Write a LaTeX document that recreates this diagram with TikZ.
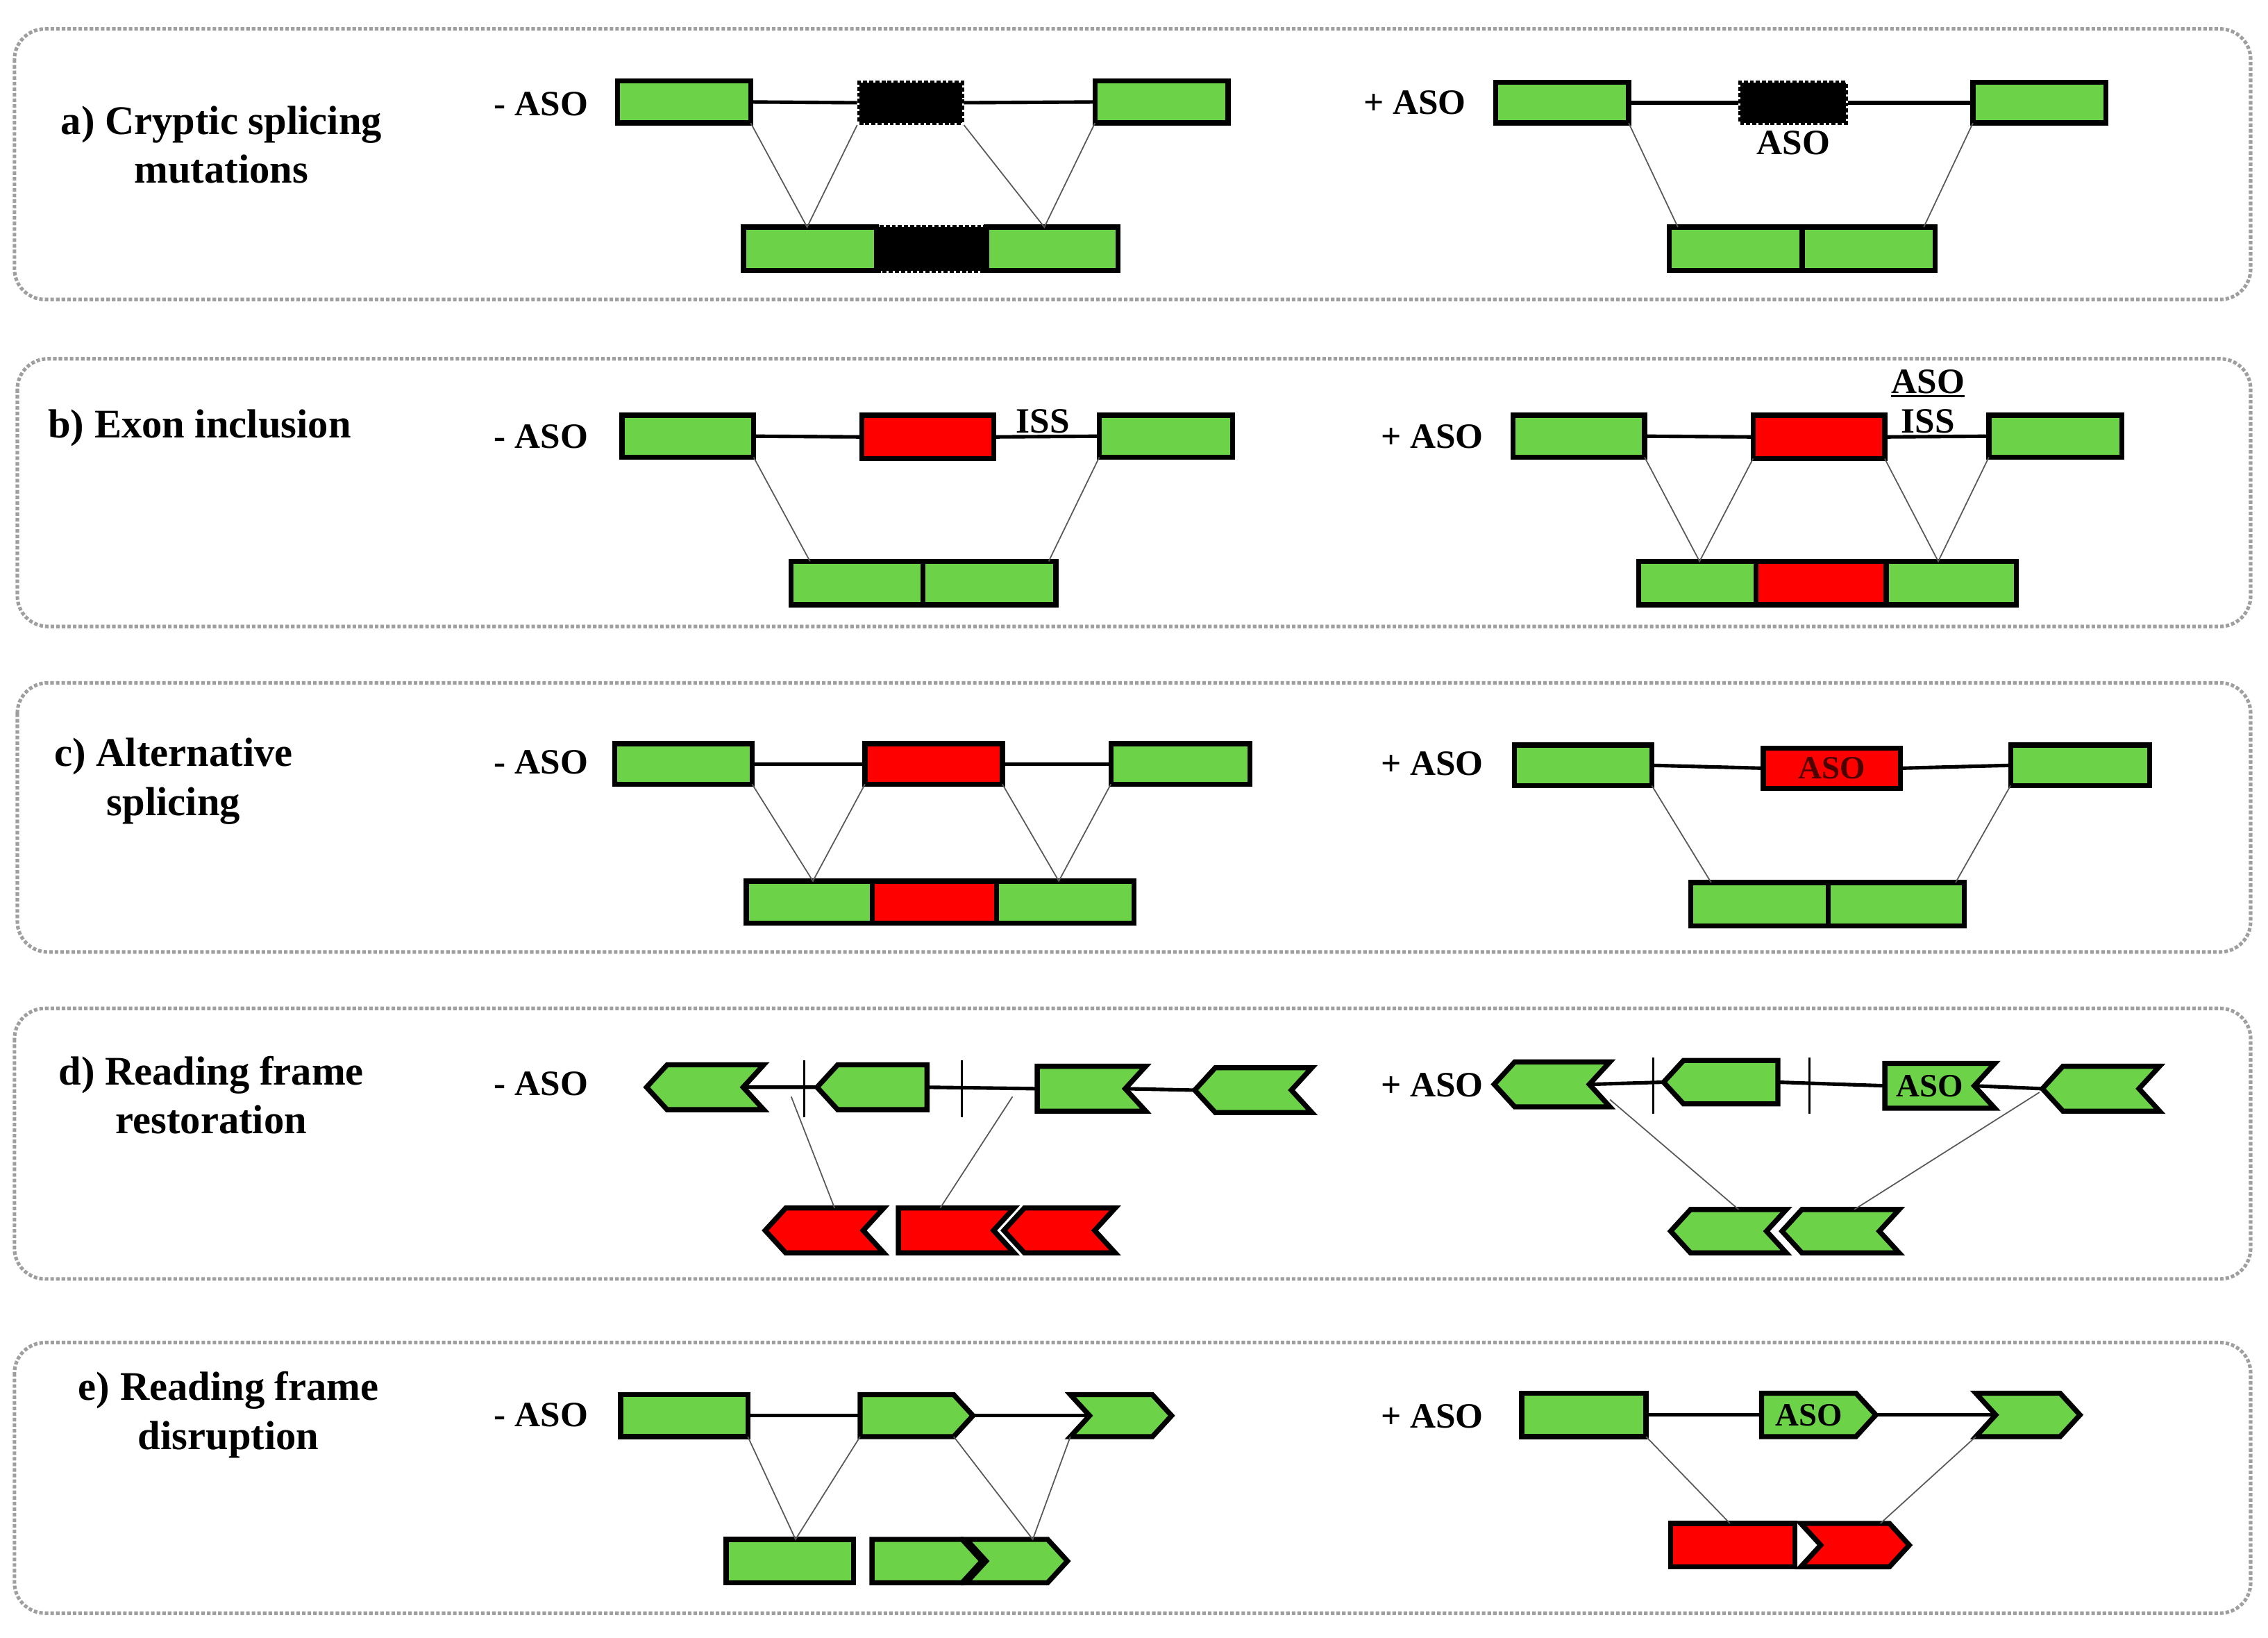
\documentclass[tikz,border=0pt]{standalone}
\usepackage{fontspec}
\setmainfont{Liberation Serif}
\usetikzlibrary{shapes.symbols}
\definecolor{gx}{RGB}{108,210,72}
\definecolor{rx}{RGB}{255,0,0}
\newcommand\ex[7]{\node[#6, minimum width={(#4-#2)*0.05cm}, minimum height={(#5-#3)*0.05cm}] (#1) at ({(#2+#4)/2},{(#3+#5)/2}) {#7};}
\begin{document}
\begin{tikzpicture}[x=0.05cm,y=-0.05cm,
  base/.style={draw=black,line width=5pt,inner sep=0pt,outer sep=0pt,font=\fontsize{32}{34}\selectfont\bfseries},
  G/.style={base,rectangle,fill=gx},
  R/.style={base,rectangle,fill=rx},
  K/.style={rectangle,fill=black,draw=black,line width=4pt,dotted,inner sep=0pt},
  LL/.style={signal,signal to=west,signal from=east,signal pointer angle=95},
  LP/.style={signal,signal to=west,signal from=nowhere,signal pointer angle=95},
  LN/.style={signal,signal to=nowhere,signal from=east,signal pointer angle=95},
  RP/.style={signal,signal to=east,signal from=nowhere,signal pointer angle=95},
  RR/.style={signal,signal to=east,signal from=west,signal pointer angle=95},
  panel/.style={draw=gray!75,dotted,line width=3.5pt,rounded corners=30},
  intron/.style={line width=3.5pt},
  sp/.style={line width=1.2pt,black!65},
  tick/.style={line width=2pt},
  lab/.style={font=\fontsize{40}{48}\selectfont\bfseries,align=center,inner sep=0pt},
  aso/.style={font=\fontsize{35}{40}\selectfont\bfseries,inner sep=0pt}]
\useasboundingbox (0,0) rectangle (1568,1132);
\fill[white] (0,0) rectangle (1568,1132);
% panels
\draw[panel] (10,20) rectangle (1556,207);
\draw[panel] (12,248) rectangle (1556,433);
\draw[panel] (12,472) rectangle (1556,658);
\draw[panel] (10,697) rectangle (1556,884);
\draw[panel] (10,928) rectangle (1556,1115);

% ---------- a
\node[lab] (ta) at (153,100) {a) Cryptic splicing\\ mutations};
\node[aso] (ma) at (374,72) {- ASO};
\ex{a1}{427}{56}{519}{85}{G}{}
\ex{a2}{594}{57}{665}{85}{K}{}
\ex{a3}{757}{56}{849}{85}{G}{}
\draw[intron] (a1.east) -- (a2.west) (a2.east) -- (a3.west);
\ex{a4}{514}{157}{606}{187}{G}{}
\ex{a5}{606}{157}{682}{187}{K}{}
\ex{a6}{682}{157}{773}{187}{G}{}
\coordinate (a45) at (558,157); \coordinate (a56) at (722,157);
\draw[sp] (a1.south east) -- (a45) -- (a2.south west);
\draw[sp] (a2.south east) -- (a56) -- (a3.south west);
\node[aso] (pa) at (978,71) {+ ASO};
\ex{a7}{1034}{57}{1126}{85}{G}{}
\ex{a8}{1203}{57}{1276}{85}{K}{}
\ex{a9}{1364}{57}{1456}{85}{G}{}
\draw[intron] (a7.east) -- (a8.west) (a8.east) -- (a9.west);
\node[aso] (aa) at (1240,99) {ASO};
\ex{a10}{1154}{157}{1246}{187}{G}{}
\ex{a11}{1246}{157}{1338}{187}{G}{}
\coordinate (ca1) at (1160,157); \coordinate (ca2) at (1330,157);
\draw[sp] (a7.south east) -- (ca1);
\draw[sp] (a9.south west) -- (ca2);

% ---------- b
\node[lab] (tb) at (138,296) {b) Exon inclusion};
\node[aso] (mb) at (374,302) {- ASO};
\ex{b1}{430}{287}{521}{316}{G}{}
\ex{b2}{596}{287}{687}{317}{R}{}
\ex{b3}{760}{287}{852}{316}{G}{}
\draw[intron] (b1.east) -- (b2.west) (b2.east) -- (b3.west);
\node[aso] (ib) at (721,291) {ISS};
\ex{b4}{547}{388}{638}{418}{G}{}
\ex{b5}{638}{388}{730}{418}{G}{}
\coordinate (cb1) at (560,388); \coordinate (cb2) at (725,388);
\draw[sp] (b1.south east) -- (cb1);
\draw[sp] (b3.south west) -- (cb2);
\node[aso] (pb) at (990,302) {+ ASO};
\ex{b6}{1046}{287}{1137}{316}{G}{}
\ex{b7}{1212}{287}{1303}{317}{R}{}
\ex{b8}{1375}{287}{1467}{316}{G}{}
\draw[intron] (b6.east) -- (b7.west) (b7.east) -- (b8.west);
\node[aso] (ab) at (1333,264) {ASO};
\node[aso] (ib2) at (1333,291) {ISS};
\draw[line width=2pt] ([yshift=-2pt]ab.south west) -- ([yshift=-2pt]ab.south east);
\ex{b9}{1133}{388}{1214}{418}{G}{}
\ex{b10}{1214}{388}{1304}{418}{R}{}
\ex{b11}{1304}{388}{1394}{418}{G}{}
\coordinate (cb3) at (1175,388); \coordinate (cb4) at (1340,388);
\draw[sp] (b6.south east) -- (cb3) -- (b7.south west);
\draw[sp] (b7.south east) -- (cb4) -- (b8.south west);

% ---------- c
\node[lab] (tc) at (120,540) {c) Alternative\\ splicing};
\node[aso] (mc) at (374,527) {- ASO};
\ex{c1}{425}{514}{520}{542}{G}{}
\ex{c2}{598}{514}{693}{542}{R}{}
\ex{c3}{768}{514}{864}{542}{G}{}
\draw[intron] (c1.east) -- (c2.west) (c2.east) -- (c3.west);
\ex{c4}{516}{609}{603}{638}{G}{}
\ex{c5}{603}{609}{689}{638}{R}{}
\ex{c6}{689}{609}{784}{638}{G}{}
\coordinate (cc1) at (562,609); \coordinate (cc2) at (732,609);
\draw[sp] (c1.south east) -- (cc1) -- (c2.south west);
\draw[sp] (c2.south east) -- (cc2) -- (c3.south west);
\node[aso] (pc) at (990,528) {+ ASO};
\ex{c7}{1047}{515}{1142}{543}{G}{}
\ex{c8}{1219}{517}{1314}{545}{R,text=black!70!red}{ASO}
\ex{c9}{1390}{515}{1486}{543}{G}{}
\draw[intron] (c7.east) -- (c8.west) (c8.east) -- (c9.west);
\ex{c10}{1169}{610}{1264}{640}{G}{}
\ex{c11}{1264}{610}{1358}{640}{G}{}
\coordinate (cc3) at (1183,610); \coordinate (cc4) at (1352,610);
\draw[sp] (c7.south east) -- (cc3);
\draw[sp] (c9.south west) -- (cc4);

% ---------- d
\node[lab] (td) at (146,757) {d) Reading frame\\ restoration};
\node[aso] (md) at (374,749) {- ASO};
\ex{d1}{447}{736}{528}{767}{G,LL}{}
\ex{d2}{572}{736}{648}{767}{G,LP}{}
\ex{d3}{710}{737}{785}{768}{G,LN}{}
\ex{d4}{826}{738}{907}{769}{G,LL}{}
\draw[intron] (d1.east) -- (d2.west) (d2.east) -- (d3.west) (d3.east) -- (d4.west);
\coordinate (t1a) at (556,733); \coordinate (t1b) at (556,772);
\coordinate (t2a) at (665,733); \coordinate (t2b) at (665,772);
\draw[tick] (t1a) -- (t1b) (t2a) -- (t2b);
\ex{d5}{529}{835}{611}{866}{R,LL}{}
\ex{d6}{614}{835}{694}{866}{R,LN}{}
\ex{d7}{694}{835}{771}{866}{R,LL}{}
\coordinate (cd1) at (547,758); \coordinate (cd2) at (700,758);
\coordinate (cd3) at (577,835); \coordinate (cd4) at (650,835);
\draw[sp] (cd1) -- (cd3) (cd2) -- (cd4);
\node[aso] (pd) at (990,750) {+ ASO};
\ex{d8}{1033}{734}{1113}{765}{G,LL}{}
\ex{d9}{1157}{733}{1236}{763}{G,LP}{}
\ex{d10}{1296}{735}{1372}{766}{G,LN}{ASO}
\ex{d11}{1412}{737}{1493}{768}{G,LL}{}
\draw[intron] (d8.east) -- (d9.west) (d9.east) -- (d10.west) (d10.east) -- (d11.west);
\coordinate (t3a) at (1143,731); \coordinate (t3b) at (1143,770);
\coordinate (t4a) at (1251,731); \coordinate (t4b) at (1251,770);
\draw[tick] (t3a) -- (t3b) (t4a) -- (t4b);
\ex{d12}{1155}{836}{1235}{866}{G,LL}{}
\ex{d13}{1232}{836}{1313}{866}{G,LL}{}
\coordinate (cd5) at (1113,760); \coordinate (cd6) at (1410,755);
\coordinate (cd7) at (1202,836); \coordinate (cd8) at (1282,836);
\draw[sp] (cd5) -- (cd7) (cd6) -- (cd8);

% ---------- e
\node[lab] (te) at (158,978) {e) Reading frame\\ disruption};
\node[aso] (me) at (374,978) {- ASO};
\ex{e1}{429}{964}{517}{993}{G}{}
\ex{e2}{588}{964}{666}{993}{G,RP}{}
\ex{e3}{740}{964}{810}{993}{G,RR}{}
\draw[intron] (e1.east) -- (e2.west) (e2.east) -- (e3.west);
\ex{e4}{502}{1064}{590}{1094}{G}{}
\ex{e5}{596}{1064}{672}{1094}{G,RP}{}
\ex{e6}{668}{1064}{738}{1094}{G,RR}{}
\coordinate (ce1) at (550,1064); \coordinate (ce2) at (714,1064);
\draw[sp] (e1.south east) -- (ce1) -- (e2.south west);
\draw[sp] (e2.south east) -- (ce2) -- (e3.south west);
\node[aso] (pe) at (990,979) {+ ASO};
\ex{e7}{1052}{963}{1138}{993}{G}{}
\ex{e8}{1211}{963}{1290}{993}{G,RP}{ASO}
\ex{e9}{1366}{963}{1438}{993}{G,RR}{}
\draw[intron] (e7.east) -- (e8.west) (e8.east) -- (e9.west);
\ex{e10}{1155}{1053}{1241}{1083}{R}{}
\ex{e11}{1245}{1053}{1320}{1083}{R,RR}{}
\coordinate (ce3) at (1196,1053); \coordinate (ce4) at (1300,1053);
\draw[sp] (e7.south east) -- (ce3);
\draw[sp] (e9.south west) -- (ce4);
\end{tikzpicture}
\end{document}
